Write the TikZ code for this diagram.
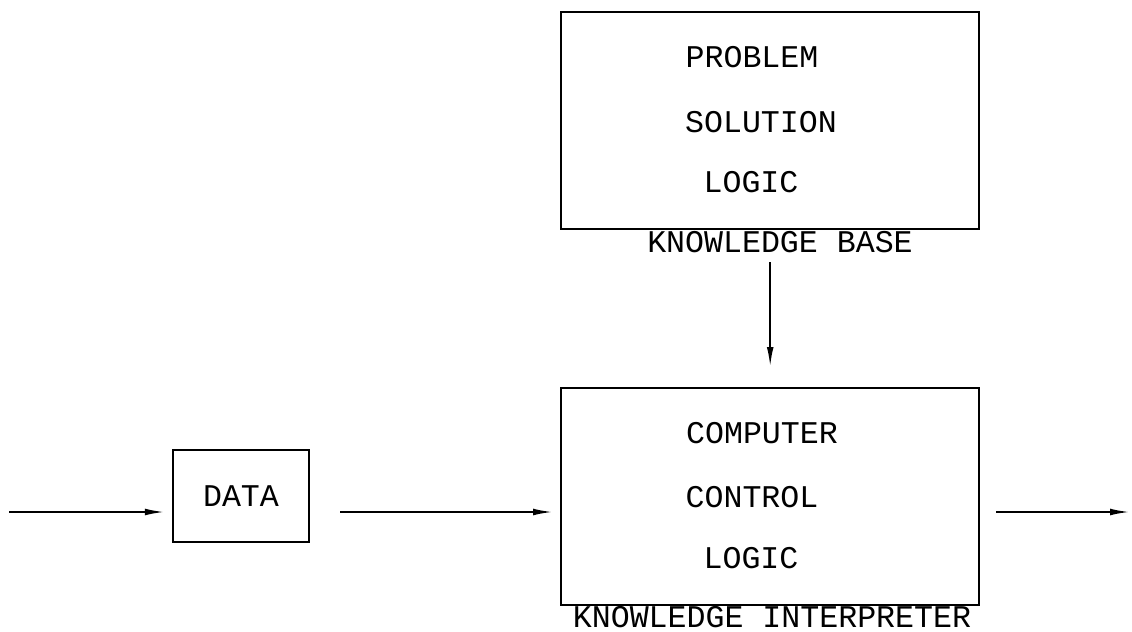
\documentclass[tikz,border=0pt]{standalone}
\usepackage{fontspec}
\setmonofont{Liberation Mono}
\usetikzlibrary{arrows.meta}
\begin{document}
\begin{tikzpicture}[x=0.5pt,y=-0.5pt,
  box/.style={draw, line width=1.2pt, inner sep=0pt},
  txt/.style={font=\ttfamily\fontsize{15.8}{19}\selectfont, inner sep=0pt},
  flow/.style={line width=1pt, -{Latex[length=10pt,width=3.4pt]}}]
\useasboundingbox (0,0) rectangle (1132,632);

% knowledge base
\node[box, anchor=north west, minimum width=209pt, minimum height=108.5pt] (kb) at (560,11) {};
\node[txt] (kb1) at (752,57) {PROBLEM};
\node[txt] (kb2) at (761,122) {SOLUTION};
\node[txt] (kb3) at (751,182) {LOGIC};
\node[txt] (kblabel) at (780,242) {KNOWLEDGE BASE};

% knowledge interpreter
\node[box, anchor=north west, minimum width=209pt, minimum height=108.5pt] (ki) at (560,387) {};
\node[txt] (ki1) at (762,433) {COMPUTER};
\node[txt] (ki2) at (752,497) {CONTROL};
\node[txt] (ki3) at (751,558) {LOGIC};
\node[txt] (kilabel) at (772,617) {KNOWLEDGE INTERPRETER};

% data
\node[box, txt, minimum width=68pt, minimum height=46pt] (data) at (241,496) {DATA};

% flow of information
\coordinate (in) at (9,512);
\coordinate (out) at (1130,512);
\draw[flow, shorten >=3.5pt] (in) -- (in -| data.west);
\draw[flow, shorten <=15pt, shorten >=3.5pt] (data.east |- in) -- (in -| ki.west);
\draw[flow, shorten <=8pt] (in -| ki.east) -- (out);
\draw[flow, shorten <=16pt, shorten >=10pt] (kb.south) -- (ki.north);
\end{tikzpicture}
\end{document}
